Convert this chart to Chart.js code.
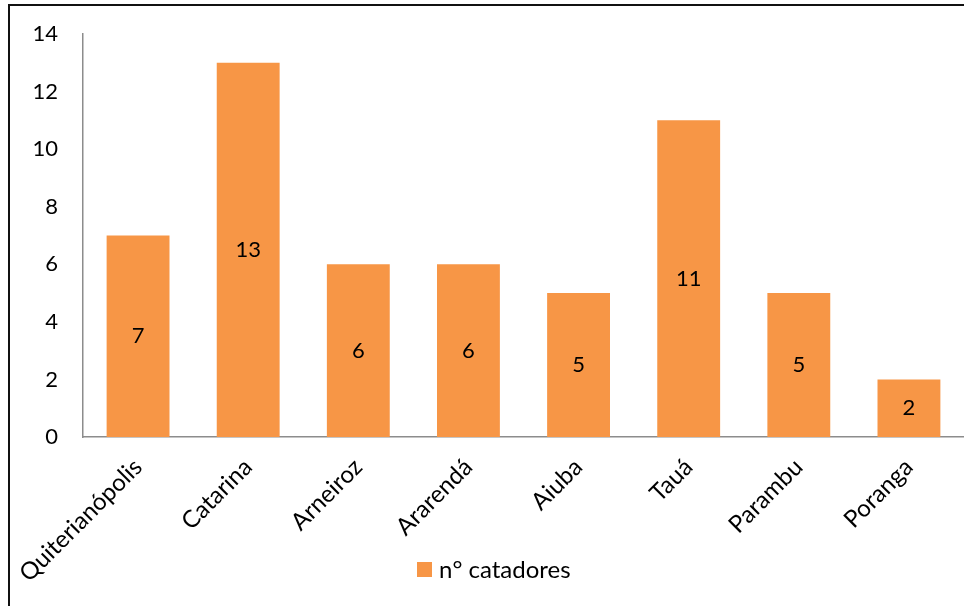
<!DOCTYPE html>
<html>
<head>
<meta charset="utf-8">
<script src="https://cdn.jsdelivr.net/npm/chart.js@4.4.0/dist/chart.umd.min.js"></script>
<style>
  html, body { margin: 0; padding: 0; background: #fff; }
</style>
</head>
<body>
<canvas id="catadores-chart" width="964" height="606"></canvas>
<script>
// municípios e número de catadores em cada um
const municipios = ["Quiterianópolis", "Catarina", "Arneiroz", "Ararendá", "Aiuba", "Tauá", "Parambu", "Poranga"];
const catadores = [7, 13, 6, 6, 5, 11, 5, 2];
const yMin = 0;
const yMax = 14;
const yStep = 2;

const fonte = "Lato, 'Open Sans', sans-serif";
const laranja = "#F79646";
const eixoCor = "#8c8c8c";

// moldura (linha esquerda e superior)
const moldura = {
  id: "moldura",
  beforeDraw(chart) {
    const c = chart.ctx;
    c.save();
    c.strokeStyle = "#111";
    c.lineWidth = 2;
    c.beginPath();
    c.moveTo(9, chart.height);
    c.lineTo(9, 5);
    c.lineTo(chart.width, 5);
    c.stroke();
    c.restore();
  }
};

// valores escritos no meio de cada barra
const rotulos = {
  id: "rotulos",
  afterDatasetsDraw(chart) {
    const c = chart.ctx;
    const meta = chart.getDatasetMeta(0);
    c.save();
    c.fillStyle = "#000";
    c.font = "22px " + fonte;
    c.textAlign = "center";
    c.textBaseline = "middle";
    meta.data.forEach((bar, i) => {
      c.fillText(String(catadores[i]), bar.x, (bar.y + bar.base) / 2);
    });
    c.restore();
  }
};

// legenda embaixo, sobreposta à área dos rótulos do eixo x
const legenda = {
  id: "legenda",
  afterDraw(chart) {
    const c = chart.ctx;
    const ds = chart.data.datasets[0];
    const x = 417;
    const y = 570;
    c.save();
    c.fillStyle = ds.backgroundColor;
    c.fillRect(x, y - 8, 15, 15);
    c.fillStyle = "#000";
    c.font = "24px " + fonte;
    c.textAlign = "left";
    c.textBaseline = "middle";
    c.fillText(ds.label, x + 22, y);
    c.restore();
  }
};

const ctx = document.querySelector("#catadores-chart").getContext("2d");

new Chart(ctx, {
  type: "bar",
  data: {
    labels: municipios,
    datasets: [
      {
        label: "n° catadores",
        data: catadores,
        backgroundColor: laranja,
        borderWidth: 0,
        barPercentage: 0.571,
        categoryPercentage: 1
      }
    ]
  },
  options: {
    responsive: false,
    animation: false,
    layout: { padding: { top: 34, left: 0, right: 0, bottom: 0 } },
    scales: {
      x: {
        grid: { display: false, drawTicks: false },
        border: { display: true, color: eixoCor, width: 1.5 },
        ticks: {
          color: "#000",
          font: { family: fonte, size: 24 },
          minRotation: 45,
          maxRotation: 45,
          autoSkip: false,
          padding: 16,
          labelOffset: 0
        },
        afterFit(scale) {
          scale.height = 169;
        }
      },
      y: {
        min: yMin,
        max: yMax,
        grid: { display: false, drawTicks: false },
        border: { display: true, color: eixoCor, width: 1.5 },
        ticks: {
          stepSize: yStep,
          color: "#000",
          font: { family: fonte, size: 22 },
          padding: 25
        },
        afterFit(scale) {
          scale.width = 83;
          // o topo do eixo fica fixo pelo padding do layout
          scale.paddingTop = 0;
          scale.paddingBottom = 0;
        }
      }
    },
    plugins: {
      legend: { display: false },
      tooltip: { enabled: false }
    }
  },
  plugins: [moldura, rotulos, legenda]
});
</script>
</body>
</html>
